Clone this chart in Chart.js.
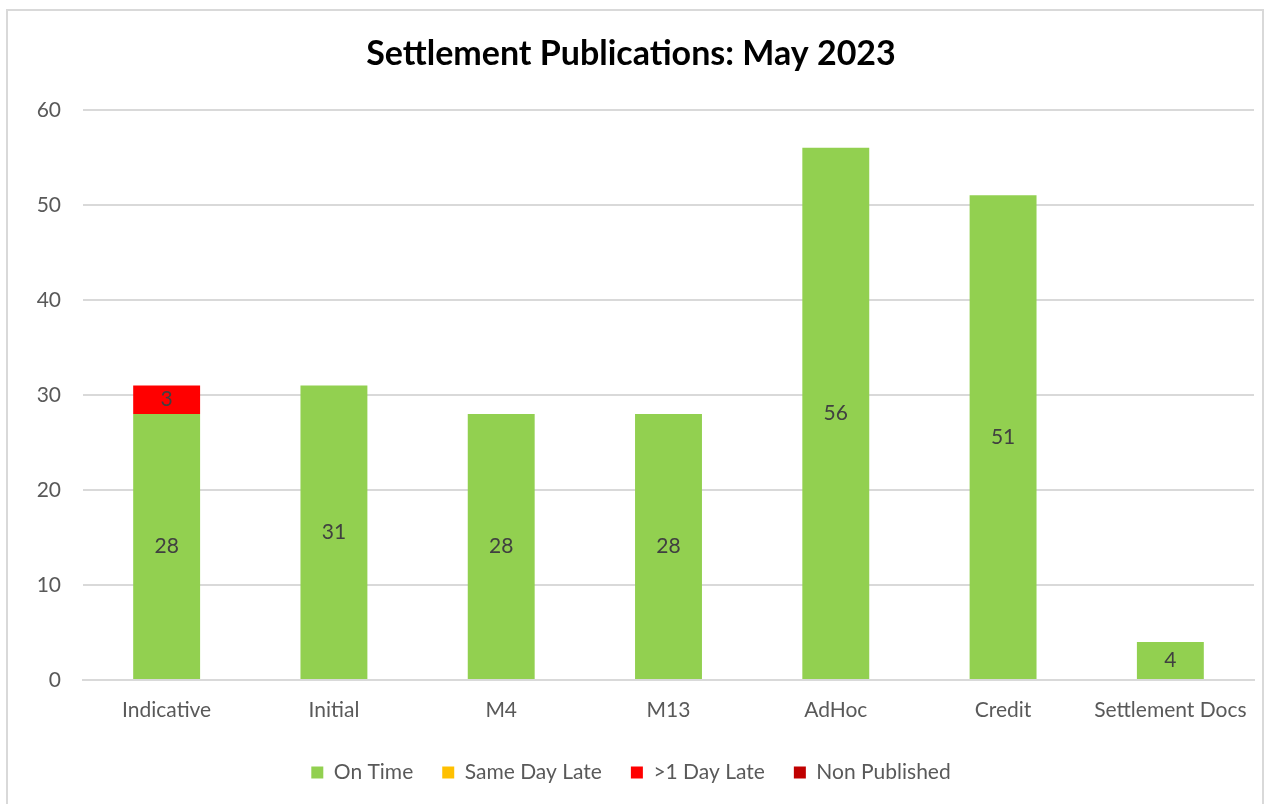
<!DOCTYPE html>
<html lang="en">
<head>
    <meta charset="UTF-8">
    <title>Settlement Publications: May 2023</title>
    <script src="https://cdn.jsdelivr.net/npm/chart.js"></script>
    <style>
        body { margin: 0; background: #fff; }
        #box {
            position: absolute; left: 6px; top: 9px;
            width: 1254px; height: 800px;
            border: 2px solid #d9d9d9; border-bottom: none;
        }
    </style>
</head>
<body>
    <div id="box"><canvas id="chart"></canvas></div>

    <script>
        var categories = ['Indicative', 'Initial', 'M4', 'M13', 'AdHoc', 'Credit', 'Settlement Docs'];
        var onTime       = [28, 31, 28, 28, 56, 51, 4];
        var sameDayLate  = [0, 0, 0, 0, 0, 0, 0];
        var oneDayLate   = [3, 0, 0, 0, 0, 0, 0];
        var nonPublished = [0, 0, 0, 0, 0, 0, 0];
        var yTicks = [0, 10, 20, 30, 40, 50, 60];

        Chart.defaults.font.family = 'Lato, "Open Sans", sans-serif';
        Chart.defaults.color = '#595959';

        // values written in the middle of each segment, skip zeros
        var segmentLabels = {
            id: 'segmentLabels',
            afterDatasetsDraw: function(chart) {
                var ctx = chart.ctx;
                ctx.save();
                ctx.font = '21px ' + Chart.defaults.font.family;
                ctx.fillStyle = '#404040';
                ctx.textAlign = 'center';
                ctx.textBaseline = 'middle';
                chart.data.datasets.forEach(function(ds, i) {
                    var meta = chart.getDatasetMeta(i);
                    meta.data.forEach(function(bar, j) {
                        var v = ds.data[j];
                        if (!v) return;
                        ctx.fillText(v, bar.x, (bar.y + bar.base) / 2);
                    });
                });
                ctx.restore();
            }
        };

        var ctx = document.getElementById('chart').getContext('2d');
        var chart = new Chart(ctx, {
            type: 'bar',
            data: {
                labels: categories,
                datasets: [
                    { label: 'On Time', data: onTime, backgroundColor: '#92D050' },
                    { label: 'Same Day Late', data: sameDayLate, backgroundColor: '#FFC000' },
                    { label: '>1 Day Late', data: oneDayLate, backgroundColor: '#FF0000' },
                    { label: 'Non Published', data: nonPublished, backgroundColor: '#C00000' }
                ]
            },
            options: {
                responsive: true,
                maintainAspectRatio: false,
                animation: false,
                categoryPercentage: 1,
                barPercentage: 0.4,
                layout: { padding: { left: 0, right: 8, top: 0, bottom: 18 } },
                plugins: {
                    title: {
                        display: true,
                        text: 'Settlement Publications: May 2023',
                        color: '#000',
                        font: { size: 34, weight: 'bold' },
                        padding: { top: 23, bottom: 35 }
                    },
                    legend: {
                        position: 'bottom',
                        labels: {
                            boxWidth: 12, boxHeight: 12,
                            font: { size: 21 },
                            color: '#595959',
                            padding: 29
                        }
                    },
                    tooltip: { enabled: false }
                },
                scales: {
                    x: {
                        stacked: true,
                        grid: { display: false },
                        border: { color: '#d9d9d9', width: 2 },
                        ticks: { font: { size: 21 }, color: '#595959', padding: 10 },
                        afterFit: function(s) { s.height = 53; }
                    },
                    y: {
                        stacked: true,
                        min: 0, max: 60,
                        afterBuildTicks: function(s) { s.ticks = yTicks.map(function(v) { return { value: v }; }); },
                        grid: { color: '#d9d9d9', lineWidth: 2, drawTicks: false },
                        border: { display: false },
                        ticks: { font: { size: 21 }, color: '#595959', padding: 22 },
                        afterFit: function(s) { s.width = 75; }
                    }
                }
            },
            plugins: [segmentLabels]
        });
    </script>
</body>
</html>
